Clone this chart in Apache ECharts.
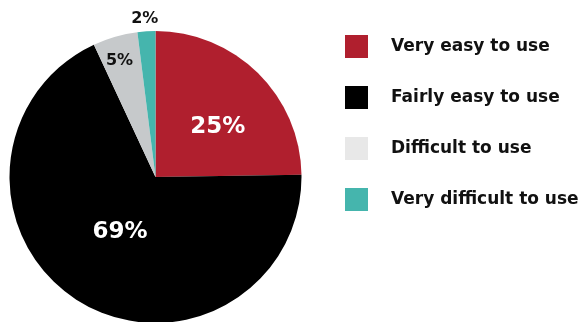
<!DOCTYPE html>
<html>
<head>
<meta charset="utf-8">
<script src="https://cdn.jsdelivr.net/npm/echarts@6/dist/echarts.min.js"></script>
<style>
  html, body { margin: 0; padding: 0; background: #ffffff; }
  #chart { width: 585px; height: 322px; }
</style>
</head>
<body>
<div id="chart"></div>
<script>
// Share of respondents by ease of use
const categories = ['Very easy to use', 'Fairly easy to use', 'Difficult to use', 'Very difficult to use'];
const shares = [25, 69, 5, 2];
const sliceColors = ['#b01f2e', '#000000', '#c6c9cb', '#45b5ad'];
const legendColors = ['#b01f2e', '#000000', '#e8e8e8', '#45b5ad'];

const FONT = '"DejaVu Sans", sans-serif';

// Nudges applied to each percentage label from its default inside spot
const labelShift = [[9, 4], [5, -9], [-15, -43], [-6, -82]];
const labelSize = [23, 23, 16, 16];
const labelColor = ['#ffffff', '#ffffff', '#111111', '#111111'];

const chart = echarts.init(document.getElementById('chart'), null, { renderer: 'canvas' });

chart.setOption({
  animation: false,
  legend: {
    orient: 'vertical',
    left: 345,
    top: 35,
    padding: 0,
    itemWidth: 23,
    itemHeight: 23,
    itemGap: 28,
    icon: 'rect',
    selectedMode: false,
    textStyle: { fontFamily: FONT, fontWeight: 'bold', fontSize: 17, color: '#111111', padding: [0, 0, 0, 18] },
    data: categories.map((name, i) => ({ name, itemStyle: { color: legendColors[i] } }))
  },
  series: [{
    type: 'pie',
    center: [155.5, 177],
    radius: [0, 146],
    startAngle: 90,
    clockwise: true,
    avoidLabelOverlap: false,
    label: { show: true, position: 'inside', formatter: '{c}%', fontFamily: FONT, fontWeight: 'bold' },
    labelLine: { show: false },
    emphasis: { disabled: true },
    labelLayout: function (p) {
      const s = labelShift[p.dataIndex];
      return { dx: s[0], dy: s[1] };
    },
    data: categories.map((name, i) => ({
      name,
      value: shares[i],
      itemStyle: { color: sliceColors[i] },
      label: { fontSize: labelSize[i], color: labelColor[i] }
    }))
  }]
});
</script>
</body>
</html>
